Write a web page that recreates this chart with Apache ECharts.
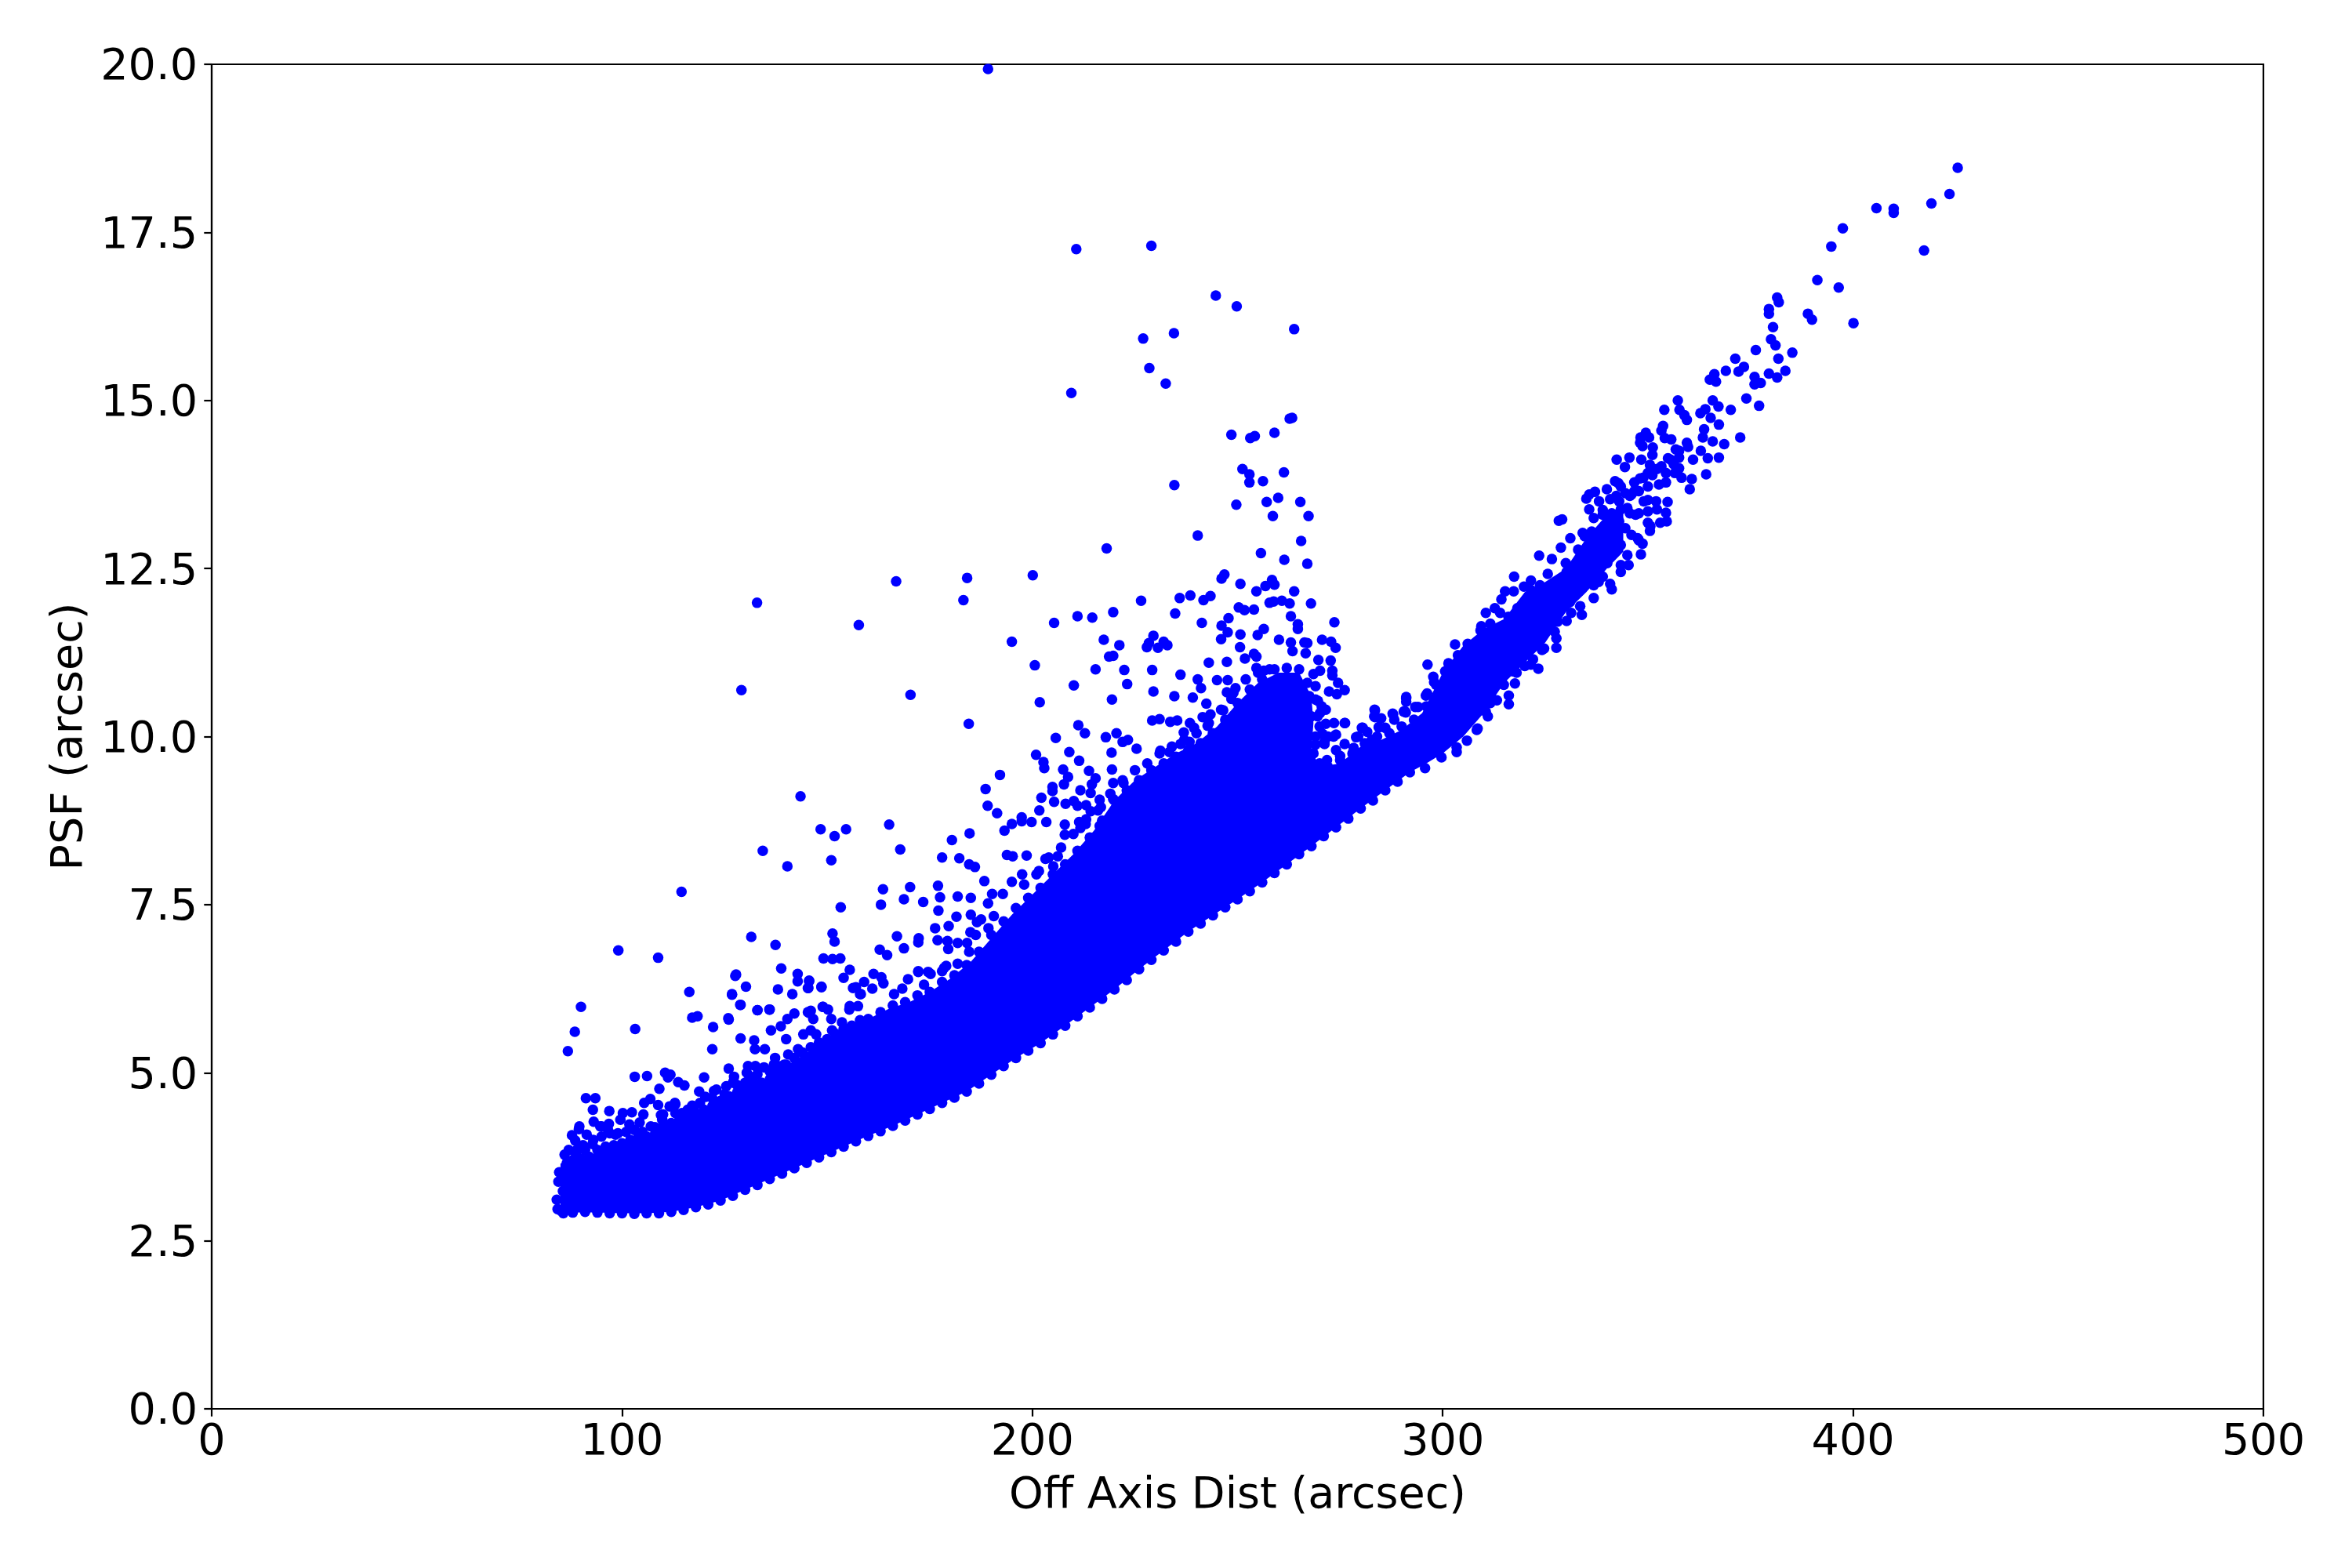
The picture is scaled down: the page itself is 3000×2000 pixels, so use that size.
<!DOCTYPE html>
<html><head><meta charset="utf-8">
<style>html,body{margin:0;padding:0;background:#fff}#c{width:3000px;height:2000px}</style>
<script src="https://cdn.jsdelivr.net/npm/echarts@6/dist/echarts.min.js"></script>
</head><body><div id="c"></div>
<script>
const xTickLabelName = "Off Axis Dist (arcsec)";
const yTickLabelName = "PSF (arcsec)";
// Envelope of the solid, fully overplotted mass
const coreUpper = [[85,3.0],[85,3.65],[90,3.7],[95,3.85],[100,3.95],[105,4.05],[110,4.2],[115,4.3],[120,4.45],[125,4.6],[130,4.85],[135,4.9],[140,5.1],[145,5.3],[150,5.5],[155,5.65],[160,5.8],[165,5.95],[170,6.05],[175,6.2],[180,6.4],[185,6.65],[190,7.0],[195,7.35],[200,7.65],[205,7.95],[210,8.25],[215,8.6],[220,9.05],[225,9.35],[230,9.55],[235,9.75],[240,9.9],[245,10.15],[250,10.5],[255,10.8],[260,10.95],[265,10.95],[268,10.6],[268.5,10.2],[268,9.8],[270,9.55],[275,9.6],[280,9.85],[285,9.95],[290,10.1],[295,10.35],[300,10.95],[305,11.35],[310,11.6],[315,11.75],[320,12.15],[325,12.3],[330,12.5],[335,12.95],[340,13.3],[344,13.45]];
const coreLower = [[344,12.75],[340,12.5],[335,12.15],[330,11.85],[325,11.4],[320,11.1],[315,10.8],[310,10.35],[305,10.0],[300,9.75],[296,9.6],[292,9.47],[286,9.2],[280,8.93],[274,8.65],[268,8.37],[262,8.1],[256,7.83],[250,7.58],[244,7.34],[238,7.1],[232,6.82],[226,6.54],[220,6.24],[214,5.97],[208,5.7],[202,5.44],[196,5.22],[190,4.97],[184,4.72],[178,4.55],[172,4.38],[166,4.21],[160,4.06],[154,3.9],[148,3.74],[142,3.58],[136,3.42],[130,3.26],[124,3.1],[118,3.0],[112,2.93],[106,2.91],[100,2.91],[94,2.92],[88,2.92],[85,2.95]];
const lowerEdgePoints = [[85,2.95],[88,2.92],[91,2.93],[94,2.92],[97,2.91],[100,2.91],[103,2.9],[106,2.91],[109,2.91],[112,2.93],[115,2.96],[118,3.0],[121,3.04],[124,3.1],[127,3.17],[130,3.26],[133,3.33],[136,3.42],[139,3.5],[142,3.58],[145,3.66],[148,3.74],[151,3.82],[154,3.9],[157,3.98],[160,4.06],[163,4.13],[166,4.21],[169,4.29],[172,4.38],[175,4.46],[178,4.55],[181,4.63],[184,4.72],[187,4.84],[190,4.97],[193,5.1],[196,5.22],[199,5.33],[202,5.44],[205,5.57],[208,5.7],[211,5.84],[214,5.97],[217,6.1],[220,6.24],[223,6.38],[226,6.54],[229,6.68],[232,6.82],[235,6.95],[238,7.1],[241,7.22],[244,7.34],[247,7.46],[250,7.58],[253,7.7],[256,7.83],[259,7.97],[262,8.1],[265,8.25],[268,8.37],[271,8.52],[274,8.65],[277,8.78],[280,8.93],[283,9.05],[286,9.2],[289,9.33],[292,9.47]];
const upperEdgePoints = [[160,5.8],[163,5.9],[166,6],[169,6.05],[172,6.15],[175,6.2],[178,6.35],[181,6.45],[184,6.6],[187,6.8],[190,7.05],[193,7.25],[196,7.45],[199,7.6],[202,7.75],[205,7.95],[208,8.1],[211,8.3],[214,8.5],[217,8.75],[220,9.05],[223,9.2],[226,9.35],[229,9.5],[232,9.6],[235,9.7],[238,9.8],[241,9.9],[244,10.05],[247,10.25],[250,10.5],[253,10.7],[256,10.85],[259,11],[262,11.02],[265,11],[267,10.8],[269,10.55],[269.5,10.3],[269,10],[268.5,9.75],[270,9.6],[272,9.55],[275,9.65],[278,9.75],[281,9.9],[284,10],[287,10.05],[290,10.15],[293,10.25],[296,10.45]];
const fuzzPoints = [[86.5,3.65],[88,3.7],[90,3.72],[92,3.75],[94,3.85],[96,3.9],[98,3.92],[100,3.95],[102,4],[104,4.05],[106,4.05],[108,4.08],[110,4.2],[112,4.25],[114,4.3],[116,4.35],[118,4.4],[120,4.45],[122,4.5],[124,4.58],[126,4.65],[128,4.7],[130,4.85],[132,4.87],[134,4.85],[136,4.9],[138,4.98],[140,5.12],[142,5.22],[144,5.3],[146,5.38],[148,5.45],[150,5.5],[152,5.58],[154,5.65],[156,5.7],[158,5.78],[87,3.85],[89,3.85],[91,3.85],[93,4],[95,4.05],[97,4.1],[99,4.1],[101,4.12],[103,4.15],[105,4.12],[107,4.2],[110,4.38],[113,4.4],[116,4.45],[119,4.55],[122,4.62],[125,4.68],[128,4.82],[123,4.75],[127,4.85],[133,4.98],[136,5.02],[131,4.95],[138,5.1],[198,7.8],[201,7.95],[204,8.2],[207,8.35],[210,8.55],[213,8.7],[216,8.9],[219,9.15],[222,9.35],[225,9.5],[228,9.6],[231,9.75],[234,9.85],[237,9.95],[240,10.05],[243,10.2],[246,10.4],[249,10.65],[252,10.85],[255,10.95],[267.5,10.6],[269,10.75],[270.5,10.45],[268,10.3],[270,10.15],[271.5,10.4],[272,10],[271.2,9.89],[273.4,10],[276.1,9.89],[279.4,10],[281.6,10.07],[271.8,9.65],[275,9.71],[278.3,9.83],[282.7,9.95],[286,10.13],[288.2,10.25],[291,10.36],[285,10.27]];
const tailPoints = [[425.5,18.46],[423.5,18.07],[419.1,17.93],[417.3,17.23],[409.9,17.85],[409.9,17.79],[405.7,17.86],[397.5,17.56],[394.7,17.29],[391.3,16.79],[396.5,16.68],[400.1,16.15],[389,16.29],[390,16.2],[381.5,16.53],[381.9,16.46],[379.5,16.36],[379.5,16.29],[380.5,16.09],[380,15.91],[381.1,15.82],[385.2,15.71],[381.8,15.62],[376.3,15.75],[383.5,15.44],[379.5,15.4],[381.5,15.34],[371.3,15.62],[373.4,15.5],[372.1,15.43],[369,15.44],[366.2,15.39],[365.1,15.31],[366.6,15.28],[376,15.35],[376,15.24],[377.5,15.26],[374,15.03],[377.1,14.92],[357.3,15],[354,14.86],[357.7,14.86],[358.9,14.78],[359.5,14.71],[365.8,15],[367.2,14.91],[364,14.87],[362.8,14.81],[370.2,14.86],[365.3,14.74],[367.3,14.64],[363.7,14.57],[363.4,14.45],[365.8,14.39],[372.5,14.45],[368.6,14.35],[353.7,14.62],[353.3,14.55],[354.1,14.44],[355.7,14.42],[349.5,14.52],[348.2,14.45],[350.3,14.45],[348.1,14.37],[348.7,14.32],[351.2,14.3],[351.1,14.19],[359.5,14.37],[359.8,14.31],[356.8,14.27],[362.9,14.25],[354.9,14.14],[357.6,14.15],[361,14.12],[364.6,14.14],[367.3,14.15],[364.2,13.9],[356.3,14.05],[357.6,13.99],[360.7,13.83],[360.2,13.68],[358.2,13.85],[342.4,14.12],[345.5,14.15],[344.4,14.01],[348.4,14.12],[350.5,14.04],[353.3,14.02],[354.4,13.92],[351.1,13.89],[348.1,13.84],[346.7,13.78],[342,13.8],[342.8,13.77],[340,13.68],[337.1,13.64],[335.7,13.6],[335,13.54],[338.1,13.5],[340.8,13.53],[344.5,13.62],[347.8,13.65],[350,13.72],[352.7,13.75],[335.7,13.38],[339,13.37],[354.8,13.49],[354.4,13.33],[354.6,13.2],[353,13.18],[350.6,13.13],[350.5,13.06],[348.7,12.87],[348.3,12.71],[345,12.7],[345.3,12.55],[343.4,12.45],[341.2,12.19],[340.8,12.27],[336.8,12.06],[329.1,13.23],[328.3,13.21],[331.1,12.95],[334.1,13.03],[328.8,12.81],[323.5,12.69],[326.6,12.64],[330,12.58],[317.4,12.38],[321.5,12.32],[325.6,12.42],[319.8,12.23],[315.2,12.16],[317.3,12.16],[314.3,12.04],[312.7,11.91],[310.5,11.84],[314,11.84],[333.9,11.81],[330.2,11.72],[327.3,11.56],[327.7,11.46],[327.7,11.32],[324.2,11.29],[323.3,11.01],[309.2,11.58],[303,11.37],[303.7,11.21],[296.3,11.07],[301.4,11.09],[297.7,10.89],[297.9,10.81],[317.6,10.79],[316.1,10.61],[316.1,10.48],[291.1,10.59],[291.1,10.52],[293.3,10.44],[295.9,10.61],[283.4,10.4],[283.3,10.3],[287.8,10.34],[290.5,10.37],[284.5,10.14],[280.3,10.13],[278.9,9.99],[276.2,10.2],[303.4,9.77],[305.9,9.94],[308.5,10.12],[310.5,10.37],[313.2,10.54],[299.7,9.69],[295.7,9.53],[343,13.2],[345,13.4],[347,13.3],[346,13],[349,13.5],[346,13.6],[343,13.5],[350,13.35],[352,13.5],[347.5,12.95],[342,12.75],[338,12.3],[333,12.15],[331,12.0],[322,11.15],[320,11.05],[318,10.95],[309.4,11.64],[311.6,11.68],[316,11.78],[318.2,11.91],[321.5,12.18],[323.7,12.25],[327,12.28],[330.2,12.45],[333,12.78],[334.6,12.98],[336.8,13.25],[339,13.3],[342.3,13.58],[345.6,13.58],[348.9,13.85],[300.6,10.97],[303.9,11.17],[306.1,11.38],[298.4,10.77],[296.2,10.64],[294,10.44],[303.4,9.84],[308.3,10.1],[311,10.3],[311.6,10.5],[314.9,10.77],[317.1,10.97],[321.5,11.07],[324.7,11.31],[328,11.71],[331.3,11.84],[333.5,11.94],[336.8,12.25],[339,12.38],[343.4,12.55],[347.8,12.92],[350,13.18],[352.2,13.38],[343.4,13.38],[345.6,13.32],[341.2,13.05],[344.5,13.1],[347.8,13.32],[350,13.52],[343.4,12.85],[340.1,12.58],[337.9,12.71],[335.7,12.85],[336.3,13.05],[339,12.98],[341.2,13.32],[343.4,13.72],[346.7,13.65],[350,13.92],[352.2,13.98],[355.5,14.12],[357.6,14.25],[354.4,13.78],[356.6,13.92]];
const upperOutliers = [[189.2,19.93],[210.7,17.25],[229,17.3],[244.7,16.56],[249.8,16.4],[227,15.92],[234.5,16],[263.8,16.06],[228.5,15.48],[232.5,15.25],[209.5,15.11],[262.7,14.73],[263.3,14.74],[248.5,14.49],[253.1,14.44],[254.2,14.47],[259,14.52],[251.2,13.98],[252.9,13.9],[252.9,13.78],[256.2,13.8],[261.3,13.93],[234.6,13.74],[249.7,13.45],[257.1,13.49],[259.9,13.55],[265.3,13.49],[267.3,13.28],[258.6,13.28],[240.3,12.99],[265.5,12.91],[218.1,12.8],[255.7,12.73],[261.4,12.63],[267,12.57],[166.8,12.31],[184.1,12.36],[200.1,12.4],[132.9,11.99],[183.2,12.03],[246.8,12.41],[246.1,12.35],[250.7,12.27],[258.4,12.33],[256.8,12.24],[259,12.26],[254.6,12.16],[263.8,12.16],[226.5,12.02],[235.9,12.06],[238.5,12.1],[241.7,12.03],[243.4,12.09],[267.9,11.98],[257.8,11.99],[258.8,12.01],[260.8,12.02],[262.7,11.98],[234.8,11.83],[250.3,11.92],[251.7,11.88],[254,11.89],[219.7,11.85],[214.6,11.77],[211,11.79],[205.3,11.69],[157.7,11.66],[241.3,11.69],[247.8,11.76],[263,11.79],[246.1,11.65],[247.6,11.55],[250.7,11.52],[256.4,11.6],[254.9,11.51],[264.7,11.67],[264.7,11.6],[273.6,11.7],[217.4,11.44],[221.2,11.36],[195,11.41],[229.5,11.5],[228.4,11.39],[227.9,11.33],[230.6,11.32],[232,11.41],[232.9,11.36],[246,11.45],[250.6,11.33],[260.1,11.44],[263,11.4],[263.4,11.27],[266.3,11.4],[267,11.39],[266.6,11.24],[270.6,11.44],[272.8,11.41],[273.9,11.32],[200.6,11.06],[218.7,11.19],[219.7,11.2],[215.4,11],[222.4,10.99],[229.2,10.99],[243,11.1],[247.4,11.11],[251.8,11.16],[254,11.23],[254.6,11.19],[269.7,11.14],[272.7,11.13],[254.6,11.02],[256.4,10.98],[257.8,11],[273.1,10.98],[273.1,10.91],[270.1,10.98],[268.5,10.93],[223.1,10.78],[210.1,10.76],[236.1,10.92],[240.3,10.85],[245,10.84],[247.6,10.84],[274.5,10.8],[241.1,10.72],[129.1,10.69],[170.3,10.62],[229.5,10.67],[234.6,10.6],[239.1,10.58],[247.4,10.66],[249.5,10.72],[248.5,10.56],[272.3,10.67],[274.2,10.63],[276.1,10.69],[201.8,10.51],[219.4,10.55],[242.4,10.49],[269.6,10.53],[270.1,10.35],[184.5,10.19],[229.2,10.24],[231,10.26],[233.6,10.22],[235.3,10.24],[241.5,10.29],[243.4,10.33],[246.5,10.39],[211.2,10.17],[212.8,10.05],[238.4,10.2],[239.4,10.13],[242.7,10.16],[236.9,10.06],[205.7,9.98],[217.9,9.99],[220.5,10.05],[222,9.92],[223.3,9.95],[225.4,9.82],[231.2,9.79],[233.4,9.77],[236.1,9.89],[238.3,9.92],[273.5,10.2],[276.1,10.2],[271.5,10.19],[270.7,10.04],[274,10.03],[269,9.88],[271.2,9.92],[283.5,10.39],[283.5,10.29],[287.9,10.33],[291.1,10.57],[290.7,10.38],[284.4,10.14],[280.5,10.13],[274,9.8]];
const midOutliers = [[200.9,9.73],[209,9.77],[219.3,9.76],[202.7,9.62],[202.9,9.53],[211.4,9.64],[207.5,9.51],[213.8,9.49],[219.4,9.51],[192.1,9.43],[208.7,9.4],[215.4,9.38],[207.7,9.29],[214.5,9.29],[219.7,9.31],[222.2,9.31],[204.9,9.25],[204.9,9.19],[188.6,9.22],[211.7,9.2],[214.2,9.16],[202.2,9.09],[143.5,9.11],[189.1,8.97],[205.3,9.03],[208.1,9],[210.1,9.04],[211,8.97],[213.1,8.98],[216.4,9.06],[219.7,9.07],[216.7,8.95],[191.4,8.86],[201.7,8.9],[214.2,8.89],[220.8,8.88],[197.4,8.8],[197.4,8.74],[199.8,8.73],[203.4,8.73],[211.4,8.73],[213.1,8.77],[216.4,8.67],[195,8.7],[193.2,8.6],[207.9,8.69],[207.9,8.54],[211.7,8.64],[165.1,8.69],[148.4,8.62],[154.6,8.62],[151.8,8.52],[184.7,8.56],[180.4,8.46],[134.3,8.3],[167.8,8.32],[140.3,8.07],[151,8.16],[178,8.2],[182.2,8.19],[193.8,8.24],[195.2,8.22],[198.6,8.23],[203.2,8.18],[206.2,8.22],[184.6,8.1],[186,8.06],[205.1,8.07],[201.6,8],[197.5,7.95],[188.3,7.85],[195,7.84],[177,7.78],[163.6,7.73],[170.2,7.76],[168.7,7.58],[177.5,7.61],[181.8,7.62],[185,7.6],[190.2,7.66],[192.8,7.66],[173.4,7.54],[163.1,7.5],[189.2,7.52],[153.3,7.46],[177.1,7.41],[181.5,7.32],[185,7.35],[190.6,7.33],[187.5,7.28],[186.5,7.24],[179.6,7.18],[176.3,7.15],[189.3,7.15],[184.9,7.09],[186.2,7.05],[151.3,7.07],[151.8,6.95],[131.5,7.02],[137.4,6.9],[167,7.03],[172.3,7],[176.9,6.97],[172.2,6.94],[179.3,6.96],[181.8,6.93],[184.1,6.93],[168.7,6.85],[179.5,6.84],[184.6,6.8],[162.8,6.83],[164.6,6.75],[149.1,6.7],[151.3,6.69],[153.2,6.7],[138.8,6.55],[155.5,6.53],[161.3,6.47],[163.2,6.42],[142.8,6.47],[142.8,6.36],[127.6,6.44],[154,6.41],[172.2,6.5],[175.2,6.47],[178.5,6.56],[181.8,6.62],[145.6,6.37],[148.6,6.28],[130.2,6.28],[138,6.24],[145.4,6.26],[126.8,6.16],[141.5,6.17],[156.3,6.26],[158.2,6.17],[161,6.25],[163.7,6.33],[128.8,6.01],[133,5.93],[136,5.94],[148.9,5.98],[142,5.88],[145.6,5.89],[155.5,5.99],[125.9,5.81],[145.3,6.26],[148.6,6.27],[145.6,6.36],[157,6.27],[159,6.35],[158,6.17],[166.3,6.17],[168.3,6.25],[169.7,6.39],[172.2,6.51],[174.6,6.5],[173.6,6.31],[179,6.59],[178,6.51],[153.6,5.75],[155.4,5.94],[157.5,5.99],[151,5.8],[151.2,5.63],[150.2,5.94],[149,5.98],[146.6,5.8],[146,5.92],[145.3,5.9],[140.3,5.8],[138.7,5.69],[136.3,5.63],[144.2,5.57],[146,5.63],[147.3,5.57],[151.2,5.45],[142.9,5.35],[140.5,5.27],[140,5.5]];
const lowOutliers = [[114.5,7.69],[99.1,6.82],[108.8,6.71],[116.4,6.2],[90,5.98],[88.5,5.61],[86.8,5.32],[103.2,5.65],[117.1,5.82],[118.4,5.84],[103.1,4.94],[106.1,4.95],[110.5,5],[111.8,4.97],[111.2,4.93],[113.7,4.86],[115.2,4.81],[109.1,4.76],[120,4.93],[118.8,4.72],[91.2,4.62],[93.5,4.62],[106.9,4.61],[105.4,4.55],[108.8,4.52],[112.9,4.55],[111.6,4.5],[117.1,4.51],[92.9,4.45],[96.9,4.43],[100.2,4.4],[102.4,4.41],[105.2,4.38],[109.5,4.37],[114.6,4.4],[99.6,4.3],[93.1,4.27],[96.8,4.24],[89.6,4.2],[95,4.2],[108,4.19],[101.8,4.23],[104.3,4.26],[91.4,4.08],[87.8,4.07],[88.6,3.99],[98.4,4.08],[92.8,3.94],[90.5,3.92],[86,3.78],[88.8,3.78],[84.7,3.52],[84.5,3.38],[85.6,3.24],[84.1,3.11],[84.3,2.97],[85.7,2.91],[89.5,4.16],[94.7,4.2],[96.6,4.15],[108.3,4.14],[109.8,4.3],[120.3,4.64],[122.4,4.73],[125.4,4.8],[126,5.06],[127.3,4.94],[130.7,5.1],[132.5,5.1],[134.6,5.08],[137.3,5.22],[139.5,5.12],[130.4,5],[128.9,5.51],[132.2,5.48],[132.4,5.35],[134.8,5.35],[122,5.35],[122.2,5.68],[126,5.79],[128.9,6.01],[133,5.93],[135.9,5.94],[127.8,6.46],[126.8,6.17],[137,5.12],[113,4.53],[117.6,4.5]];
const xTicks = [0,100,200,300,400,500];
const yTicks = [0,2.5,5,7.5,10,12.5,15,17.5,20];
const markerPoints = [].concat(lowerEdgePoints, upperEdgePoints, fuzzPoints, tailPoints, upperOutliers, midOutliers, lowOutliers);

const chart = echarts.init(document.getElementById('c'), null, {renderer:'canvas', width:3000, height:2000});
const font = '"DejaVu Sans"';
const axisBase = {
  axisLine:{show:true,onZero:false,lineStyle:{color:'#000',width:2.2}},
  axisTick:{show:true,inside:false,length:9.7,lineStyle:{color:'#000',width:2.2}},
  splitLine:{show:false},
  nameLocation:'middle',
  nameTextStyle:{color:'#000',fontFamily:font,fontSize:55.6}
};
chart.setOption({
  animation:false,
  backgroundColor:'#fff',
  grid:{left:270,top:82,width:2617,height:1715,show:true,borderColor:'#000',borderWidth:2.2,backgroundColor:'transparent',containLabel:false},
  xAxis:Object.assign({},axisBase,{type:'value',min:xTicks[0],max:xTicks[xTicks.length-1],interval:100,name:xTickLabelName,nameGap:84,
    axisLabel:{color:'#000',fontFamily:font,fontSize:55.6,margin:16,showMinLabel:true,showMaxLabel:true}}),
  yAxis:Object.assign({},axisBase,{type:'value',min:yTicks[0],max:yTicks[yTicks.length-1],interval:2.5,name:yTickLabelName,nameGap:151,nameRotate:90,
    axisLabel:{color:'#000',fontFamily:font,fontSize:55.6,margin:18,verticalAlign:'top',lineHeight:10,showMinLabel:true,showMaxLabel:true,formatter:v=>v.toFixed(1)}}),
  series:[
    {type:'custom',silent:true,clip:true,z:1,data:[[0,0]],
     renderItem:(params,api)=>({type:'polygon',shape:{points:coreUpper.concat(coreLower).map(p=>api.coord(p))},style:{fill:'#0000ff'}})},
    {type:'scatter',silent:true,z:2,symbol:'circle',symbolSize:13.5,itemStyle:{color:'#0000ff',opacity:1},data:markerPoints}
  ]
});
</script></body></html>
